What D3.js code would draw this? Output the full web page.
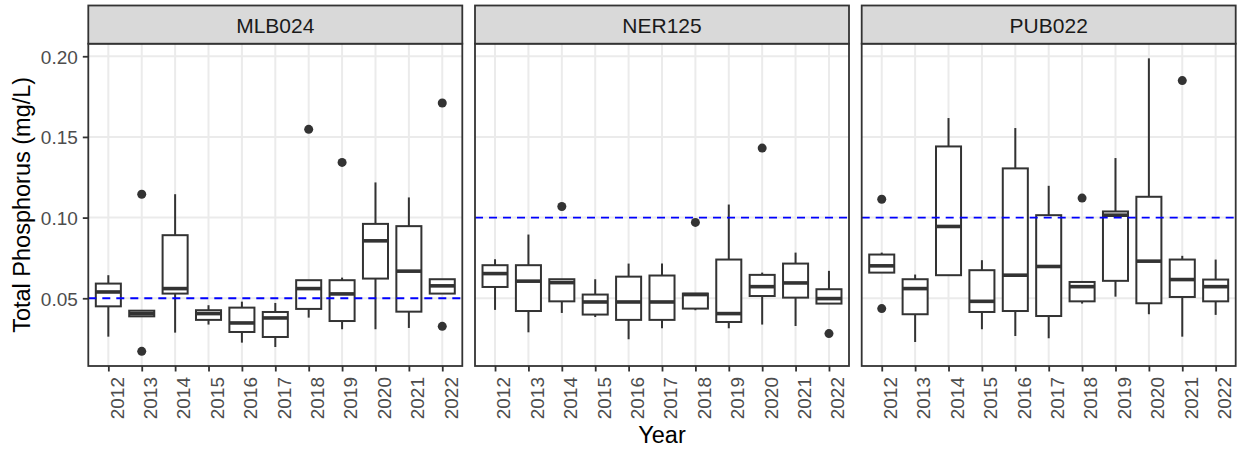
<!DOCTYPE html>
<html>
<head>
<meta charset="utf-8">
<script src="https://cdn.jsdelivr.net/npm/d3@7"></script>
<style>
body { margin: 0; background: #fff; }
svg { display: block; font-family: "Liberation Sans", Arial, sans-serif; }
</style>
</head>
<body>
<svg id="chart" width="1239" height="450"></svg>
<script>
var years = ["2012","2013","2014","2015","2016","2017","2018","2019","2020","2021","2022"];
var sites = ["MLB024", "NER125", "PUB022"];
var targets = [0.05, 0.10, 0.10];
var yTicks = [0.05, 0.10, 0.15, 0.20];

// per year: [lower whisker, q1, median, q3, upper whisker]
var mlb024 = [
  [0.0262, 0.0450, 0.0539, 0.0591, 0.0643],
  [0.0388, 0.0388, 0.0405, 0.0423, 0.0423],
  [0.0287, 0.0529, 0.0560, 0.0891, 0.1145],
  [0.0337, 0.0366, 0.0405, 0.0426, 0.0457],
  [0.0225, 0.0291, 0.0347, 0.0442, 0.0479],
  [0.0198, 0.0260, 0.0378, 0.0415, 0.0471],
  [0.0380, 0.0434, 0.0560, 0.0612, 0.0612],
  [0.0308, 0.0359, 0.0527, 0.0612, 0.0628],
  [0.0308, 0.0622, 0.0856, 0.0961, 0.1218],
  [0.0316, 0.0417, 0.0668, 0.0947, 0.1125],
  [0.0529, 0.0529, 0.0577, 0.0618, 0.0618]
];
var ner125 = [
  [0.0428, 0.0570, 0.0653, 0.0705, 0.0742],
  [0.0289, 0.0421, 0.0606, 0.0705, 0.0895],
  [0.0409, 0.0481, 0.0597, 0.0618, 0.0618],
  [0.0384, 0.0399, 0.0477, 0.0523, 0.0618],
  [0.0246, 0.0366, 0.0477, 0.0634, 0.0715],
  [0.0314, 0.0366, 0.0477, 0.0641, 0.0715],
  [0.0426, 0.0436, 0.0523, 0.0529, 0.0529],
  [0.0314, 0.0353, 0.0405, 0.0740, 0.1081],
  [0.0337, 0.0514, 0.0572, 0.0645, 0.0659],
  [0.0328, 0.0504, 0.0595, 0.0715, 0.0783],
  [0.0467, 0.0467, 0.0498, 0.0556, 0.0670]
];
var pub022 = [
  [0.0659, 0.0659, 0.0701, 0.0771, 0.0783],
  [0.0229, 0.0401, 0.0560, 0.0618, 0.0647],
  [0.0643, 0.0643, 0.0945, 0.1441, 0.1617],
  [0.0308, 0.0415, 0.0481, 0.0674, 0.0736],
  [0.0266, 0.0421, 0.0643, 0.1305, 0.1555],
  [0.0252, 0.0390, 0.0697, 0.1015, 0.1197],
  [0.0467, 0.0481, 0.0572, 0.0601, 0.0601],
  [0.0510, 0.0608, 0.1015, 0.1038, 0.1369],
  [0.0401, 0.0469, 0.0730, 0.1129, 0.1987],
  [0.0262, 0.0508, 0.0616, 0.0740, 0.0763],
  [0.0397, 0.0481, 0.0572, 0.0616, 0.0740]
];

// outliers: [year, value]
var mlb024Out = [["2013", 0.1145], ["2013", 0.0171], ["2018", 0.1547], ["2019", 0.1342], ["2022", 0.1710], ["2022", 0.0326]];
var ner125Out = [["2014", 0.1069], ["2018", 0.0970], ["2020", 0.1431], ["2022", 0.0281]];
var pub022Out = [["2012", 0.1114], ["2012", 0.0436], ["2018", 0.1121], ["2021", 0.1849]];

var boxes = [mlb024, ner125, pub022];
var outs = [mlb024Out, ner125Out, pub022Out];

function draw() {
  var svg = d3.select("#chart"),
      left = 88.3,
      stripTop = 5.5,
      plotTop = 43.7,
      plotBottom = 366,
      panelW = 374,
      gap = 12.7,
      dark = "#333333",
      lw = 2;

  var vals = d3.merge(boxes.map(function(b) { return d3.merge(b); }))
    .concat(d3.merge(outs).map(function(d) { return d[1]; }));
  var ext = d3.extent(vals),
      pad = (ext[1] - ext[0]) * 0.05;

  var y = d3.scaleLinear()
      .domain([ext[0] - pad, ext[1] + pad])
      .range([plotBottom, plotTop]);

  var x = d3.scalePoint()
      .domain(years)
      .range([0, panelW])
      .padding(0.6);

  var bw = x.step() * 0.75;

  sites.forEach(function(site, i) {
    var g = svg.append("g")
        .attr("transform", "translate(" + (left + i * (panelW + gap)) + ",0)");

    g.append("rect")
      .attr("x", 0).attr("y", plotTop)
      .attr("width", panelW).attr("height", plotBottom - plotTop)
      .attr("fill", "#fff");

    g.selectAll(".gy").data(yTicks).enter().append("line")
      .attr("x1", 0).attr("x2", panelW)
      .attr("y1", function(d) { return y(d); })
      .attr("y2", function(d) { return y(d); })
      .attr("stroke", "#EBEBEB").attr("stroke-width", 2);

    g.selectAll(".gx").data(years).enter().append("line")
      .attr("x1", function(d) { return x(d); })
      .attr("x2", function(d) { return x(d); })
      .attr("y1", plotTop).attr("y2", plotBottom)
      .attr("stroke", "#EBEBEB").attr("stroke-width", 2);

    var b = g.selectAll(".box").data(boxes[i]).enter().append("g");

    b.append("line")
      .attr("x1", function(d, j) { return x(years[j]); })
      .attr("x2", function(d, j) { return x(years[j]); })
      .attr("y1", function(d) { return y(d[0]); })
      .attr("y2", function(d) { return y(d[1]); })
      .attr("stroke", dark).attr("stroke-width", lw);

    b.append("line")
      .attr("x1", function(d, j) { return x(years[j]); })
      .attr("x2", function(d, j) { return x(years[j]); })
      .attr("y1", function(d) { return y(d[3]); })
      .attr("y2", function(d) { return y(d[4]); })
      .attr("stroke", dark).attr("stroke-width", lw);

    b.append("rect")
      .attr("x", function(d, j) { return x(years[j]) - bw / 2; })
      .attr("y", function(d) { return y(d[3]); })
      .attr("width", bw)
      .attr("height", function(d) { return y(d[1]) - y(d[3]); })
      .attr("fill", "#fff")
      .attr("stroke", dark).attr("stroke-width", lw);

    b.append("line")
      .attr("x1", function(d, j) { return x(years[j]) - bw / 2; })
      .attr("x2", function(d, j) { return x(years[j]) + bw / 2; })
      .attr("y1", function(d) { return y(d[2]); })
      .attr("y2", function(d) { return y(d[2]); })
      .attr("stroke", dark).attr("stroke-width", 3.6);

    g.selectAll(".out").data(outs[i]).enter().append("circle")
      .attr("cx", function(d) { return x(d[0]); })
      .attr("cy", function(d) { return y(d[1]); })
      .attr("r", 4.5)
      .attr("fill", dark);

    g.append("line")
      .attr("x1", 0).attr("x2", panelW)
      .attr("y1", y(targets[i])).attr("y2", y(targets[i]))
      .attr("stroke", "#0000FF")
      .attr("stroke-width", 1.9)
      .attr("stroke-dasharray", "8,6");

    g.append("rect")
      .attr("x", 0).attr("y", plotTop)
      .attr("width", panelW).attr("height", plotBottom - plotTop)
      .attr("fill", "none")
      .attr("stroke", dark).attr("stroke-width", 1.8);

    // strip
    g.append("rect")
      .attr("x", 0).attr("y", stripTop)
      .attr("width", panelW).attr("height", plotTop - stripTop)
      .attr("fill", "#D9D9D9")
      .attr("stroke", dark).attr("stroke-width", 1.8);

    g.append("text")
      .attr("x", panelW / 2).attr("y", 33.3)
      .attr("text-anchor", "middle")
      .attr("font-size", "21px")
      .attr("fill", "#1A1A1A")
      .text(site);

    // x axis
    var ax = g.append("g")
        .attr("transform", "translate(0," + plotBottom + ")")
        .call(d3.axisBottom(x).tickSize(5.5).tickSizeOuter(0));
    ax.select(".domain").remove();
    ax.attr("font-family", null);
    ax.selectAll("line").attr("stroke", dark).attr("stroke-width", 1.8);
    ax.selectAll("text")
      .attr("transform", "rotate(-90)")
      .attr("text-anchor", "end")
      .attr("x", -11)
      .attr("y", 0)
      .attr("dy", "0.78em")
      .attr("font-size", "19px")
      .attr("fill", "#4D4D4D");

    if (i == 0) {
      var ay = g.append("g")
          .call(d3.axisLeft(y).tickValues(yTicks).tickFormat(d3.format(".2f"))
            .tickSize(5.5).tickPadding(5).tickSizeOuter(0));
      ay.select(".domain").remove();
      ay.attr("font-family", null);
      ay.selectAll("line").attr("stroke", dark).attr("stroke-width", 1.8);
      ay.selectAll("text")
        .attr("font-size", "19px")
        .attr("dy", "0.36em")
        .attr("fill", "#4D4D4D");
    }
  });

  svg.append("text")
    .attr("transform", "translate(29.5," + ((plotTop + plotBottom) / 2) + ") rotate(-90)")
    .attr("text-anchor", "middle")
    .attr("font-size", "23.5px")
    .attr("fill", "#000")
    .text("Total Phosphorus (mg/L)");

  svg.append("text")
    .attr("x", left + (3 * panelW + 2 * gap) / 2)
    .attr("y", 443)
    .attr("text-anchor", "middle")
    .attr("font-size", "23.5px")
    .attr("fill", "#000")
    .text("Year");
}

draw();
</script>
</body>
</html>
